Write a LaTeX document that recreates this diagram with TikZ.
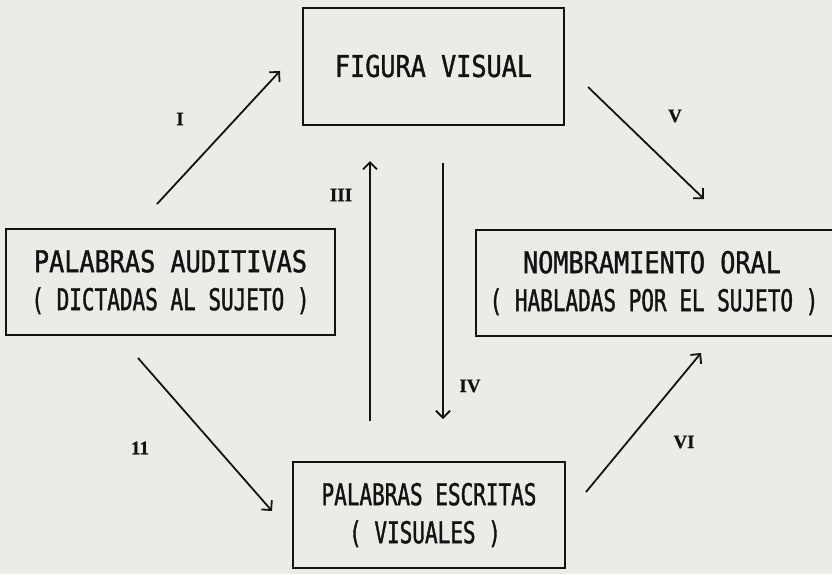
\documentclass[tikz,border=0pt]{standalone}
\usepackage{fontspec}
\usetikzlibrary{arrows.meta}
\newfontfamily\fa[FakeStretch=0.84,FakeBold=1.2]{DejaVu Sans Mono}
\newfontfamily\fb[FakeStretch=0.70,FakeBold=1.2]{DejaVu Sans Mono}
\newfontfamily\lf[FakeBold=0.8]{Liberation Serif}
\definecolor{paper}{RGB}{235,235,232}
\definecolor{ink}{RGB}{18,18,18}
\begin{document}
\begin{tikzpicture}[x=1pt,y=-1pt,
  box/.style={draw=ink, line width=2pt, align=center, inner sep=0pt,
    text=ink, font=\fontsize{30}{38}\selectfont},
  conn/.style={draw=ink, line width=1.8pt, -{Straight Barb[length=7pt,width=14pt]}},
  lab/.style={text=ink, font=\lf\bfseries\fontsize{19}{19}\selectfont, inner sep=0pt}]
\clip (0,0) rectangle (832,574);
\fill[paper] (0,0) rectangle (832,574);
% boxes
\node[box, minimum width=261pt, minimum height=117pt] (fig) at (433.5,66) {\fa FIGURA VISUAL};
\node[box, minimum width=329pt, minimum height=106pt] (aud) at (170.5,282)
  {{\fa PALABRAS AUDITIVAS}\\{\fb ( DICTADAS AL SUJETO )}};
\node[box, minimum width=366pt, minimum height=106pt] (nom) at (659,283)
  {{\fa NOMBRAMIENTO ORAL}\hspace*{14pt}\\{\fb ( HABLADAS POR EL SUJETO )}\hspace*{10pt}};
\node[box, minimum width=272pt, minimum height=106pt] (esc) at (429,515)
  {{\fb PALABRAS ESCRITAS}\\{\fb ( VISUALES )}\hspace*{8pt}};
% connector ends
\coordinate (i1) at (157,204);  \coordinate (i2) at (280,71);
\coordinate (v1) at (588,87);   \coordinate (v2) at (704,199);
\coordinate (t1) at (370,421);  \coordinate (t2) at (370,161);
\coordinate (f1) at (443,163);  \coordinate (f2) at (443,419);
\coordinate (d1) at (138,358);  \coordinate (d2) at (272,511);
\coordinate (s1) at (586,492);  \coordinate (s2) at (701,353);
\draw[conn] (i1) -- (i2);
\draw[conn] (v1) -- (v2);
\draw[conn] (t1) -- (t2);
\draw[conn] (f1) -- (f2);
\draw[conn] (d1) -- (d2);
\draw[conn] (s1) -- (s2);
% labels
\node[lab] (li) at (180,119) {I};
\node[lab] (lv) at (675,116) {V};
\node[lab] (liii) at (341,195) {III};
\node[lab] (liv) at (470,386) {IV};
\node[lab] (lii) at (140,448) {11};
\node[lab] (lvi) at (684,442) {VI};
\end{tikzpicture}
\end{document}
